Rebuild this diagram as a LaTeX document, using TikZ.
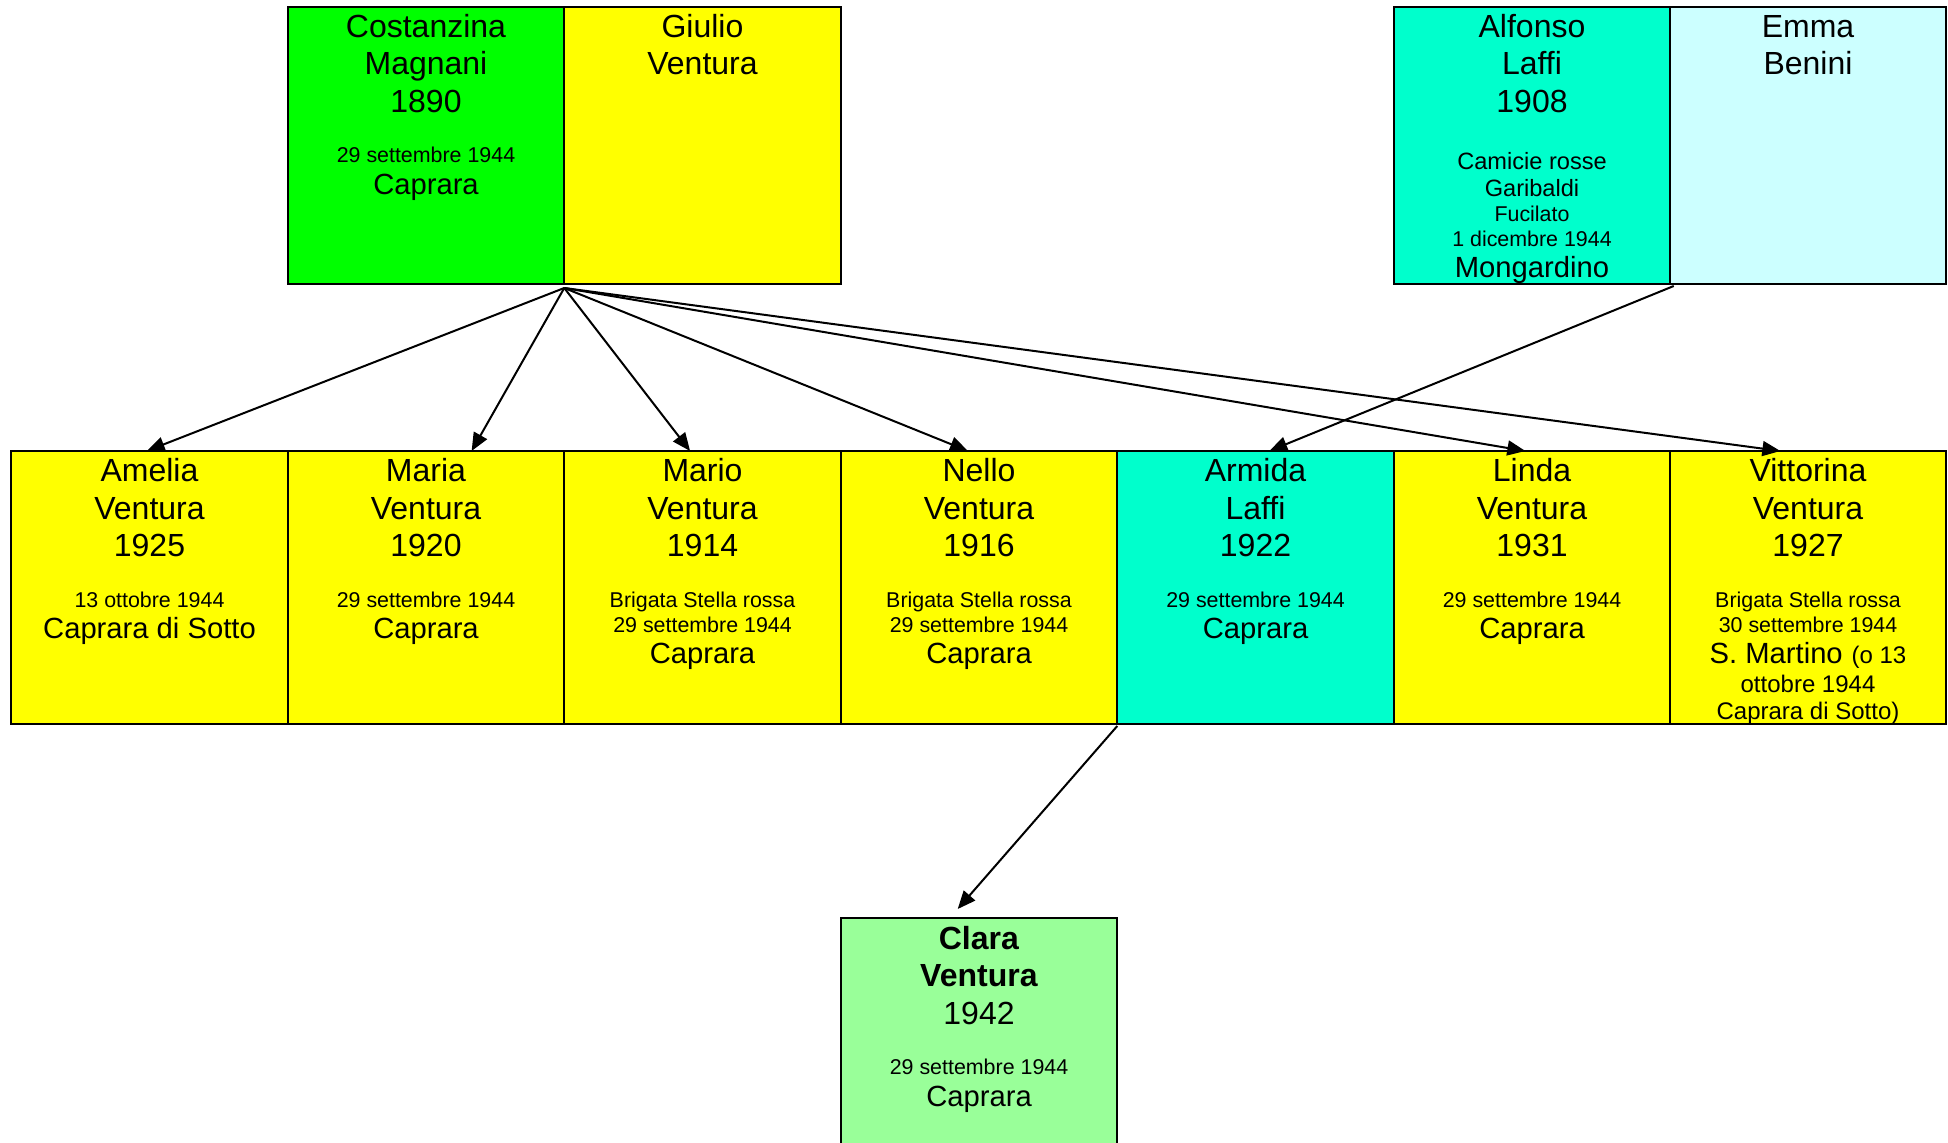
\documentclass[tikz,border=0pt]{standalone}
\usepackage{fontspec}
\setmainfont{Liberation Sans}
\usetikzlibrary{arrows.meta,calc}
\definecolor{cgreen}{HTML}{00FF00}
\definecolor{cyellow}{HTML}{FFFF00}
\definecolor{caqua}{HTML}{00FFCC}
\definecolor{ccyan}{HTML}{CCFFFF}
\definecolor{clight}{HTML}{99FF99}
\newcommand{\smtx}{\fontsize{10.7}{12}\selectfont}
\newcommand{\mdtx}{\fontsize{12}{14}\selectfont}
\newcommand{\mmtx}{\fontsize{11.8}{14}\selectfont}
\newcommand{\pltx}{\fontsize{14.6}{16}\selectfont}
\newcommand{\fs}{\rule{0pt}{12pt}}
\begin{document}
\begin{tikzpicture}[x=0.5pt,y=-0.5pt,
  pbox/.style={draw=black, line width=1pt, minimum width=138.25pt, inner sep=0pt, outer sep=0pt},
  toprow/.style={pbox, minimum height=138.5pt},
  midrow/.style={pbox, minimum height=136.5pt},
  txt/.style={anchor=north, align=center, inner sep=0pt, font=\fontsize{16}{18.75}\selectfont},
  arr/.style={line width=1pt, -{Triangle[length=9pt,width=7.5pt]}}]
\useasboundingbox (0,0) rectangle (1948,1143);
\clip (0,0) rectangle (1948,1143);
% top row
\node[toprow, fill=cgreen] (cost) at (426,145.5) {};
\node[toprow, fill=cyellow] (giulio) at (702.5,145.5) {};
\node[toprow, fill=caqua] (alf) at (1532,145.5) {};
\node[toprow, fill=ccyan] (emma) at (1808,145.5) {};
% middle row
\node[midrow, fill=cyellow] (amelia) at (149.5,587.5) {};
\node[midrow, fill=cyellow] (maria) at (426,587.5) {};
\node[midrow, fill=cyellow] (mario) at (702.5,587.5) {};
\node[midrow, fill=cyellow] (nello) at (979,587.5) {};
\node[midrow, fill=caqua] (armida) at (1255.5,587.5) {};
\node[midrow, fill=cyellow] (linda) at (1532,587.5) {};
\node[midrow, fill=cyellow] (vitt) at (1808,587.5) {};
% bottom
\node[midrow, fill=clight] (clara) at (979,1054.5) {};
% texts
\node[txt] (costT) at ($(cost.north)+(0,6)$) {\fs Costanzina\\Magnani\\1890\\[6.5pt]{\smtx 29 settembre 1944}\\[-3pt]{\pltx Caprara}};
\node[txt] (giulioT) at ($(giulio.north)+(0,6)$) {\fs Giulio\\Ventura};
\node[txt] (alfT) at ($(alf.north)+(0,6)$) {\fs Alfonso\\Laffi\\1908\\[9.75pt]{\mmtx Camicie rosse}\\[-5.25pt]{\mmtx Garibaldi}\\[-6.25pt]{\smtx Fucilato}\\[-6.25pt]{\smtx 1 dicembre 1944}\\[-3.25pt]{\pltx Mongardino}};
\node[txt] (emmaT) at ($(emma.north)+(0,6)$) {\fs Emma\\Benini};
\node[txt] (ameliaT) at ($(amelia.north)+(0,6.5)$) {\fs Amelia\\Ventura\\1925\\[6.5pt]{\smtx 13 ottobre 1944}\\[-3pt]{\pltx Caprara di Sotto}};
\node[txt] (mariaT) at ($(maria.north)+(0,6.5)$) {\fs Maria\\Ventura\\1920\\[6.5pt]{\smtx 29 settembre 1944}\\[-3pt]{\pltx Caprara}};
\node[txt] (marioT) at ($(mario.north)+(0,6.5)$) {\fs Mario\\Ventura\\1914\\[6.5pt]{\smtx Brigata Stella rossa}\\[-6.25pt]{\smtx 29 settembre 1944}\\[-3.25pt]{\pltx Caprara}};
\node[txt] (nelloT) at ($(nello.north)+(0,6.5)$) {\fs Nello\\Ventura\\1916\\[6.5pt]{\smtx Brigata Stella rossa}\\[-6.25pt]{\smtx 29 settembre 1944}\\[-3.25pt]{\pltx Caprara}};
\node[txt] (armidaT) at ($(armida.north)+(0,6.5)$) {\fs Armida\\Laffi\\1922\\[6.5pt]{\smtx 29 settembre 1944}\\[-3pt]{\pltx Caprara}};
\node[txt] (lindaT) at ($(linda.north)+(0,6.5)$) {\fs Linda\\Ventura\\1931\\[6.5pt]{\smtx 29 settembre 1944}\\[-3pt]{\pltx Caprara}};
\node[txt] (vittT) at ($(vitt.north)+(0,6.5)$) {\fs Vittorina\\Ventura\\1927\\[6.5pt]{\smtx Brigata Stella rossa}\\[-6.25pt]{\smtx 30 settembre 1944}\\[-3.25pt]{\pltx S. Martino} {\mdtx (o 13}\\[-4.25pt]{\mdtx ottobre 1944}\\[-5.25pt]{\mdtx Caprara di Sotto)}};
\node[txt] (claraT) at ($(clara.north)+(0,7)$) {\fs\textbf{Clara}\\\textbf{Ventura}\\1942\\[6.5pt]{\smtx 29 settembre 1944}\\[-3pt]{\pltx Caprara}};
% connectors
\coordinate (cg) at ($(cost.south east)+(0,4)$);
\coordinate (ae) at ($(emma.south west)+(4,2)$);
\coordinate (an) at ($(armida.south west)+(0,2)$);
\draw[arr] (cg) -- ($(amelia.north west)!0.49!(amelia.north east)$);
\draw[arr] (cg) -- ($(maria.north west)!0.665!(maria.north east)$);
\draw[arr] (cg) -- ($(mario.north west)!0.455!(mario.north east)$);
\draw[arr] (cg) -- ($(nello.north west)!0.46!(nello.north east)$);
\draw[arr] (cg) -- ($(linda.north west)!0.476!(linda.north east)$);
\draw[arr] (cg) -- ($(vitt.north west)!0.4!(vitt.north east)$);
\draw[arr] (ae) -- ($(armida.north west)!0.55!(armida.north east)$);
\draw[arr] (an) -- ($(clara.north west)!0.423!(clara.north east)+(0,-9)$);
\end{tikzpicture}
\end{document}
